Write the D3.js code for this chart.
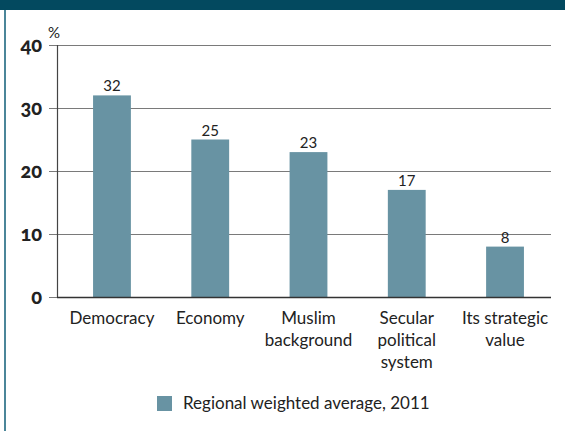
<!DOCTYPE html>
<html>
<head>
<meta charset="utf-8">
<script src="https://cdn.jsdelivr.net/npm/d3@7"></script>
<style>
  html, body { margin: 0; padding: 0; background: #fff; }
  svg { display: block; }
</style>
</head>
<body>
<script>
const categories = ["Democracy", "Economy", "Muslim background", "Secular political system", "Its strategic value"];
const categoryLines = [["Democracy"], ["Economy"], ["Muslim", "background"], ["Secular", "political", "system"], ["Its strategic", "value"]];
const values = [32, 25, 23, 17, 8];
const yTicks = [0, 10, 20, 30, 40];
const legendLabel = "Regional weighted average, 2011";

const W = 565, H = 431;
const plotLeft = 57, plotRight = 551, plotTop = 45, plotBottom = 297;
const barColor = "#6893a3";
const font = "Lato, 'Open Sans', sans-serif";

const svg = d3.select("body").append("svg").attr("width", W).attr("height", H);

// Frame: dark band across the top and a thin rule down the left edge
svg.append("rect").attr("x", 0).attr("y", 0).attr("width", W).attr("height", 10).attr("fill", "#03495f");
svg.append("rect").attr("x", 4).attr("y", 10).attr("width", 2).attr("height", H - 10).attr("fill", "#4b8699");

const x = d3.scaleBand().domain(categories).range([plotLeft, 560]).paddingInner(0.615).paddingOuter(0.367);
const y = d3.scaleLinear().domain([0, 40]).range([plotBottom, plotTop]);

// Horizontal gridlines with tick stubs reaching left of the axis
const yAxis = d3.axisLeft(y).tickValues(yTicks).tickSize(-(plotRight - plotLeft)).tickSizeOuter(0).tickPadding(15);
const gy = svg.append("g").attr("transform", `translate(${plotLeft},0)`).call(yAxis);
gy.select(".domain").remove();
gy.selectAll(".tick line").attr("x1", -8).attr("stroke", "#7a7a7a").attr("stroke-width", 1);
gy.selectAll(".tick text")
  .attr("font-family", font).attr("font-weight", 900).attr("font-size", 20).attr("fill", "#222")
  .style("font-variant-numeric", "oldstyle-nums")
  .attr("dy", "0.3em");

// Bars
svg.append("g").selectAll("rect").data(values).join("rect")
  .attr("x", (d, i) => x(categories[i]))
  .attr("width", x.bandwidth())
  .attr("y", d => y(d))
  .attr("height", d => y(0) - y(d))
  .attr("fill", barColor);

// Value labels
svg.append("g").selectAll("text").data(values).join("text")
  .attr("x", (d, i) => x(categories[i]) + x.bandwidth() / 2)
  .attr("y", d => y(d) - 4)
  .attr("text-anchor", "middle")
  .attr("font-family", font).attr("font-size", 15).attr("fill", "#222")
  .text(d => d);

// Axis lines
svg.append("line").attr("x1", plotLeft + 0.5).attr("x2", plotLeft + 0.5)
  .attr("y1", y(40)).attr("y2", y(0)).attr("stroke", "#444").attr("stroke-width", 1.2);
svg.append("line").attr("x1", plotLeft).attr("x2", plotRight)
  .attr("y1", y(0) + 0.5).attr("y2", y(0) + 0.5).attr("stroke", "#333").attr("stroke-width", 1.4);

// Unit label
svg.append("text").attr("x", 48).attr("y", 38)
  .attr("font-family", font).attr("font-size", 15).attr("fill", "#222").text("%");

// Category labels
const cat = svg.append("g").selectAll("text").data(categories).join("text")
  .attr("x", d => x(d) + x.bandwidth() / 2)
  .attr("y", y(0) + 27)
  .attr("text-anchor", "middle")
  .attr("font-family", font).attr("font-size", 17).attr("fill", "#222");
cat.each(function(d, i) {
  d3.select(this).selectAll("tspan").data(categoryLines[i]).join("tspan")
    .attr("x", x(d) + x.bandwidth() / 2)
    .attr("dy", (l, j) => j === 0 ? 0 : 22)
    .text(l => l);
});

// Legend
svg.append("rect").attr("x", 157).attr("y", 396).attr("width", 15).attr("height", 15).attr("fill", barColor);
svg.append("text").attr("x", 183).attr("y", 409)
  .attr("font-family", font).attr("font-size", 17).attr("fill", "#222").text(legendLabel);
</script>
</body>
</html>
